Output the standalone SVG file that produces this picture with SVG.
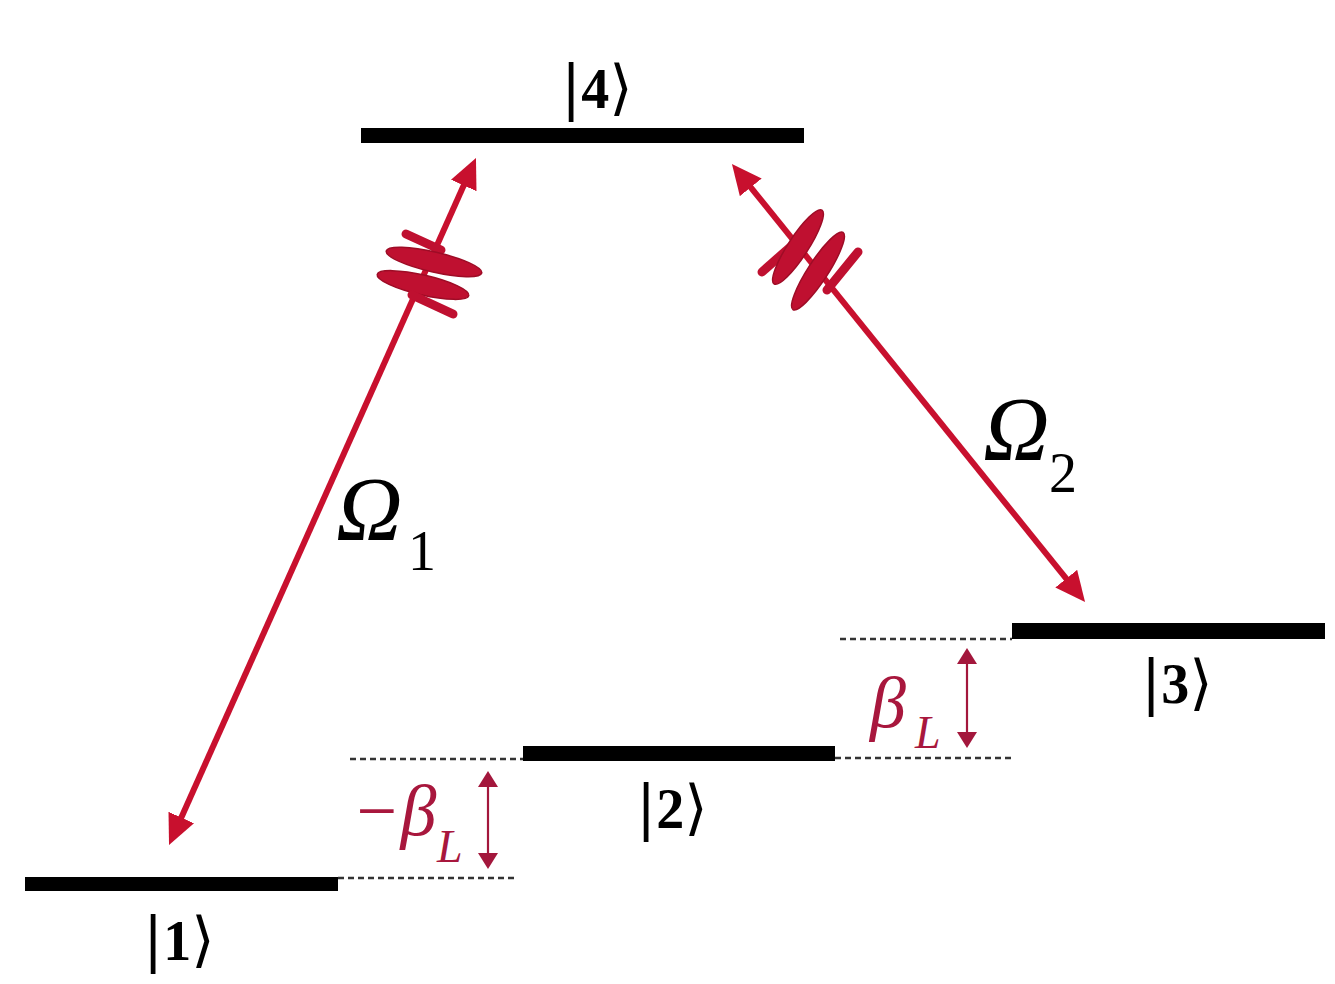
<svg xmlns="http://www.w3.org/2000/svg" width="1335" height="984" viewBox="0 0 1335 984">
<style>
.lvl{fill:#000}
.dash{stroke:#333;stroke-width:2.5;stroke-dasharray:6 4;fill:none}
.big{stroke:#c8102e;stroke-width:6;fill:none}
.wig{fill:#bf1030;stroke:#9e0c26;stroke-width:1.5}
.wbar{stroke:#bf1030;stroke-width:9;stroke-linecap:round}
.small{stroke:#a3173c;stroke-width:2.2;fill:none}
.ket{font-family:"Liberation Serif","DejaVu Serif",serif;fill:#000}
.br{font-family:"DejaVu Serif","Liberation Serif",serif;font-weight:normal}
.dg{font-weight:bold}
.om{font-family:"Liberation Serif",serif;font-style:italic;fill:#000}
.sub{font-family:"Liberation Serif",serif;fill:#000}
.beta{font-family:"Liberation Serif",serif;font-style:italic;fill:#a8173d}
</style>
<defs>
<marker id="ah" markerUnits="userSpaceOnUse" markerWidth="32" markerHeight="30" refX="10" refY="14" orient="auto-start-reverse">
<path d="M0,0 L30,14 L0,28 z" fill="#c8102e"/>
</marker>
<marker id="sh" markerUnits="userSpaceOnUse" markerWidth="18" markerHeight="22" refX="5" refY="10" orient="auto-start-reverse">
<path d="M0,0 L16,10 L0,20 z" fill="#a3173c"/>
</marker>
</defs>

<g id="connectors">
<line class="dash" x1="350" y1="759" x2="523" y2="759"/>
<line class="dash" x1="338" y1="878" x2="518" y2="878"/>
<line class="dash" x1="840" y1="639" x2="1012" y2="639"/>
<line class="dash" x1="835" y1="758" x2="1014" y2="758"/>
<line class="big" x1="177.2" y1="826.7" x2="467.8" y2="176.3" marker-start="url(#ah)" marker-end="url(#ah)"/>
<line class="big" x1="744.5" y1="179.6" x2="1072.5" y2="586.4" marker-start="url(#ah)" marker-end="url(#ah)"/>
<line class="small" x1="488" y1="782" x2="488" y2="858" marker-start="url(#sh)" marker-end="url(#sh)"/>
<line class="small" x1="967" y1="659" x2="967" y2="737" marker-start="url(#sh)" marker-end="url(#sh)"/>
</g>

<g id="wiggle1">
<line class="wbar" x1="406" y1="234" x2="441" y2="250"/>
<ellipse class="wig" cx="434" cy="262" rx="49" ry="10" transform="rotate(13 434 262)"/>
<ellipse class="wig" cx="423" cy="285" rx="47" ry="10" transform="rotate(13 423 285)"/>
<line class="wbar" x1="412" y1="295" x2="453" y2="314"/>
</g>
<g id="wiggle2">
<line class="wbar" x1="762" y1="272" x2="796" y2="242"/>
<ellipse class="wig" cx="798" cy="247" rx="44" ry="10" transform="rotate(-57 798 247)"/>
<ellipse class="wig" cx="818" cy="271" rx="46" ry="10" transform="rotate(-57 818 271)"/>
<line class="wbar" x1="827" y1="290" x2="858" y2="252"/>
</g>

<g id="level4">
<rect class="lvl" x="361" y="128" width="443" height="15"/>
<text class="ket" x="561" y="108" font-size="56"><tspan class="br" font-size="60">|</tspan><tspan class="dg">4</tspan><tspan class="br" font-size="60">⟩</tspan></text>
</g>
<g id="level3">
<rect class="lvl" x="1012" y="623" width="313" height="16"/>
<text class="ket" x="1141" y="703" font-size="56"><tspan class="br" font-size="60">|</tspan><tspan class="dg">3</tspan><tspan class="br" font-size="60">⟩</tspan></text>
</g>
<g id="level2">
<rect class="lvl" x="523" y="746" width="312" height="15"/>
<text class="ket" x="636" y="828" font-size="56"><tspan class="br" font-size="60">|</tspan><tspan class="dg">2</tspan><tspan class="br" font-size="60">⟩</tspan></text>
</g>
<g id="level1">
<rect class="lvl" x="25" y="877" width="313" height="14"/>
<text class="ket" x="143" y="960" font-size="56"><tspan class="br" font-size="60">|</tspan><tspan class="dg">1</tspan><tspan class="br" font-size="60">⟩</tspan></text>
</g>

<g id="omega1">
<text class="om" x="336" y="540" font-size="92">Ω</text>
<text class="sub" x="408" y="570" font-size="56">1</text>
</g>
<g id="omega2">
<text class="om" x="983" y="460" font-size="92">Ω</text>
<text class="sub" x="1049" y="492" font-size="56">2</text>
</g>
<g id="beta1">
<text class="beta" x="352" y="835" font-size="72">−β</text>
<text class="beta" x="437" y="862" font-size="46">L</text>
</g>
<g id="beta2">
<text class="beta" x="870" y="727" font-size="72">β</text>
<text class="beta" x="915" y="748" font-size="46">L</text>
</g>
</svg>
